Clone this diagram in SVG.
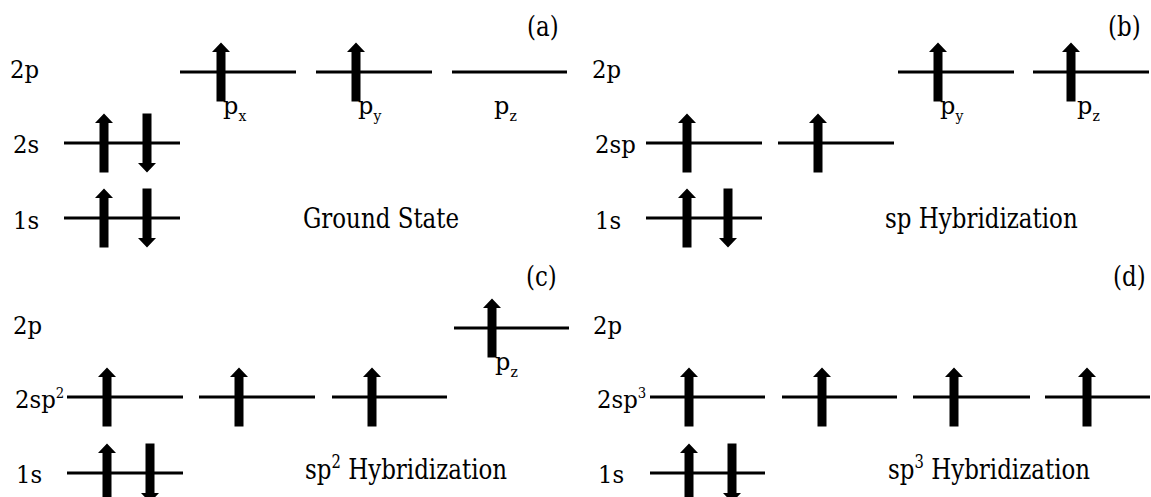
<svg xmlns="http://www.w3.org/2000/svg" width="1151" height="497" viewBox="0 0 1151 497">
<style>
.lv{stroke:#000;stroke-width:3;fill:none}
text{font-family:"DejaVu Serif","Liberation Serif",serif;fill:#000}
.lb{font-size:24px}
.big{font-size:28px}
.sub{font-size:14px}
.sup{font-size:14px}
.bsup{font-size:18px}
</style>
<defs>
<path id="up" d="M0,-29.5 L9,-20 L4.5,-20 L4.5,29.5 L-4.5,29.5 L-4.5,-20 L-9,-20 Z" fill="#000"/>
<path id="dn" d="M0,29.5 L9,20 L4.5,20 L4.5,-29.5 L-4.5,-29.5 L-4.5,20 L-9,20 Z" fill="#000"/>
</defs>
<rect width="1151" height="497" fill="#fff"/>

<g id="panel-a">
<text class="big" transform="translate(527,36) scale(0.82,1)">(a)</text>
<g id="a-labels">
<text class="lb" transform="translate(10,78) scale(0.95,1)">2p</text>
<text class="lb" transform="translate(13,153) scale(0.95,1)">2s</text>
<text class="lb" transform="translate(13,229) scale(0.95,1)">1s</text>
<text class="big" transform="translate(303,228) scale(0.82,1)">Ground State</text>
</g>
<g id="a-2p">
<path class="lv" d="M180,72H296M316,72H432M452,72H567"/>
<use href="#up" x="221" y="72"/>
<use href="#up" x="356" y="72"/>
<text class="lb" x="223" y="114">p<tspan class="sub" dy="7">x</tspan></text>
<text class="lb" x="358" y="114">p<tspan class="sub" dy="7">y</tspan></text>
<text class="lb" x="494" y="114">p<tspan class="sub" dy="7">z</tspan></text>
</g>
<g id="a-2s">
<path class="lv" d="M64,143H180"/>
<use href="#up" x="104" y="143"/>
<use href="#dn" x="147" y="143"/>
</g>
<g id="a-1s">
<path class="lv" d="M64,218H180"/>
<use href="#up" x="104" y="218"/>
<use href="#dn" x="147" y="218"/>
</g>
</g>

<g id="panel-b">
<text class="big" transform="translate(1108,36) scale(0.82,1)">(b)</text>
<g id="b-labels">
<text class="lb" transform="translate(592,78) scale(0.95,1)">2p</text>
<text class="lb" transform="translate(595,153) scale(0.95,1)">2sp</text>
<text class="lb" transform="translate(595,229) scale(0.95,1)">1s</text>
<text class="big" transform="translate(885,228) scale(0.82,1)">sp Hybridization</text>
</g>
<g id="b-2p">
<path class="lv" d="M898,72H1014M1033,72H1149"/>
<use href="#up" x="938" y="72"/>
<use href="#up" x="1071" y="72"/>
<text class="lb" x="940" y="114">p<tspan class="sub" dy="7">y</tspan></text>
<text class="lb" x="1077" y="114">p<tspan class="sub" dy="7">z</tspan></text>
</g>
<g id="b-2sp">
<path class="lv" d="M646,143H762M778,143H894"/>
<use href="#up" x="687" y="143"/>
<use href="#up" x="818" y="143"/>
</g>
<g id="b-1s">
<path class="lv" d="M646,218H762"/>
<use href="#up" x="687" y="218"/>
<use href="#dn" x="728" y="218"/>
</g>
</g>

<g id="panel-c">
<text class="big" transform="translate(526,286) scale(0.82,1)">(c)</text>
<g id="c-labels">
<text class="lb" transform="translate(13,334) scale(0.95,1)">2p</text>
<text class="lb" transform="translate(15,408) scale(0.95,1)">2sp<tspan class="sup" dy="-10">2</tspan></text>
<text class="lb" transform="translate(16,483) scale(0.95,1)">1s</text>
<text class="big" transform="translate(305,479) scale(0.82,1)">sp<tspan class="bsup" dy="-11">2</tspan><tspan dy="11"> Hybridization</tspan></text>
</g>
<g id="c-2p">
<path class="lv" d="M454,328H569"/>
<use href="#up" x="492" y="328"/>
<text class="lb" x="495" y="370">p<tspan class="sub" dy="7">z</tspan></text>
</g>
<g id="c-2sp2">
<path class="lv" d="M67,397H183M199,397H315M332,397H447"/>
<use href="#up" x="107" y="397"/>
<use href="#up" x="239" y="397"/>
<use href="#up" x="372" y="397"/>
</g>
<g id="c-1s">
<path class="lv" d="M67,473H183"/>
<use href="#up" x="107" y="473"/>
<use href="#dn" x="150" y="473"/>
</g>
</g>

<g id="panel-d">
<text class="big" transform="translate(1113,286) scale(0.82,1)">(d)</text>
<g id="d-labels">
<text class="lb" transform="translate(593,334) scale(0.95,1)">2p</text>
<text class="lb" transform="translate(597,408) scale(0.95,1)">2sp<tspan class="sup" dy="-10">3</tspan></text>
<text class="lb" transform="translate(598,483) scale(0.95,1)">1s</text>
<text class="big" transform="translate(888,479) scale(0.82,1)">sp<tspan class="bsup" dy="-11">3</tspan><tspan dy="11"> Hybridization</tspan></text>
</g>
<g id="d-2sp3">
<path class="lv" d="M650,397H765M782,397H897M913,397H1030M1045,397H1150"/>
<use href="#up" x="689" y="397"/>
<use href="#up" x="822" y="397"/>
<use href="#up" x="954" y="397"/>
<use href="#up" x="1087" y="397"/>
</g>
<g id="d-1s">
<path class="lv" d="M650,473H765"/>
<use href="#up" x="689" y="473"/>
<use href="#dn" x="732" y="473"/>
</g>
</g>
</svg>
